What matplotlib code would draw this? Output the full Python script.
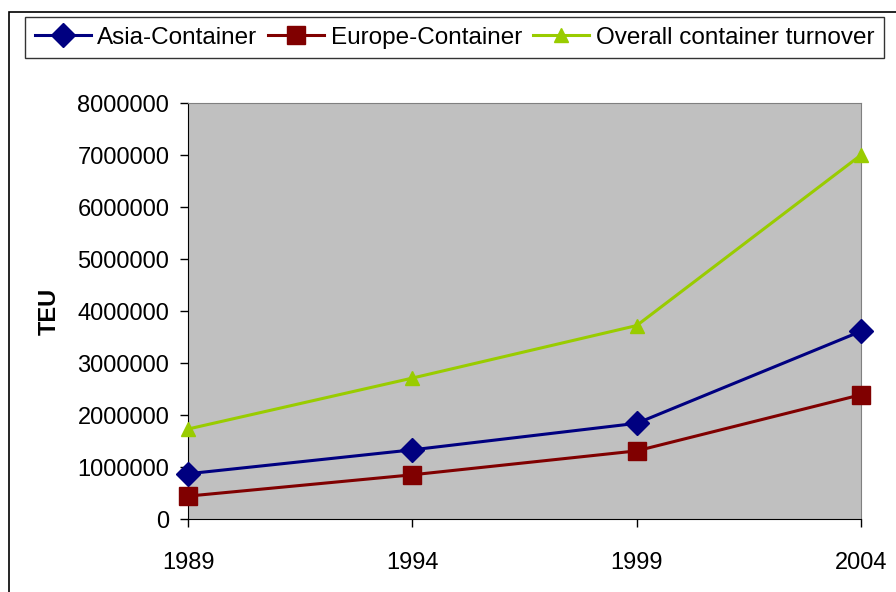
import matplotlib.pyplot as plt
from matplotlib.patches import Rectangle

# data
years = ['1989', '1994', '1999', '2004']
asia = [870000, 1330000, 1840000, 3610000]
europe = [440000, 850000, 1310000, 2390000]
overall = [1730000, 2710000, 3720000, 7000000]

plt.rcParams['font.family'] = ['Liberation Sans', 'DejaVu Sans']

fig = plt.figure(figsize=(8.96, 5.92), dpi=100)
ax = fig.add_axes([188 / 896, 1 - 519 / 592, (861 - 188) / 896, (519 - 103) / 592])

x = range(len(years))
ax.plot(x, asia, color='#000080', marker='D', markersize=12, linewidth=2.2,
        label='Asia-Container', clip_on=False, zorder=3)
ax.plot(x, europe, color='#800000', marker='s', markersize=13, linewidth=2.2,
        label='Europe-Container', clip_on=False, zorder=3)
ax.plot(x, overall, color='#99CC00', marker='^', markersize=10, linewidth=2.2,
        label='Overall container turnover', clip_on=False, zorder=3)

ax.set_facecolor('#C0C0C0')
ax.set_xlim(0, 3)
ax.set_ylim(0, 8000000)
ax.set_yticks(range(0, 8000001, 1000000))
ax.set_yticklabels([str(v) for v in range(0, 8000001, 1000000)])
ax.set_xticks(list(x))
ax.set_xticklabels(years)
ax.tick_params(labelsize=17, length=6, width=1, color='black')
ax.tick_params(axis='y', pad=7.5)
ax.tick_params(axis='x', pad=18)
for side in ['top', 'right']:
    ax.spines[side].set_color('#808080')
for side in ['left', 'bottom']:
    ax.spines[side].set_color('black')
ax.set_ylabel('TEU', fontsize=17, fontweight='bold')
ax.yaxis.set_label_coords((61 - 188) / 673, 0.5)

leg = fig.legend(loc='upper left', bbox_to_anchor=(25 / 896, 1 - 17 / 592), ncol=3,
                 fontsize=17.5, frameon=True, fancybox=False, edgecolor='black',
                 handlelength=2.3, handletextpad=0.28, columnspacing=0.45,
                 borderpad=0.4, borderaxespad=0)
leg.get_frame().set_linewidth(1)

# outer chart border
fig.patches.append(Rectangle((9 / 896, -0.1), 1.1, 1 - 12 / 592 + 0.1,
                             transform=fig.transFigure, fill=False,
                             edgecolor='black', linewidth=1.2))

fig.savefig('out.png', dpi=100)
